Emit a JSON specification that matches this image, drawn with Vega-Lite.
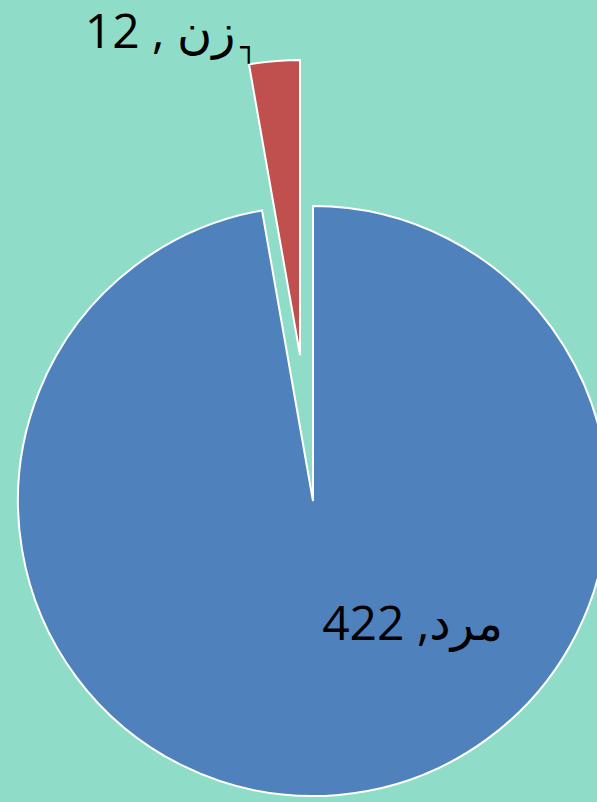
{
  "$schema": "https://vega.github.io/schema/vega-lite/v6.json",
  "width": 568,
  "height": 590,
  "autosize": {"type": "none"},
  "padding": {"left": 29, "top": 206, "right": 0, "bottom": 6},
  "background": "#8FDDC8",
  "config": {"view": {"stroke": null}},
  "data": {
    "values": [
      {"gender": "مرد", "count": 422, "label": "مرد, 422"},
      {"gender": "زن", "count": 12, "label": "زن , 12"}
    ]
  },
  "encoding": {
    "theta": {"field": "count", "type": "quantitative", "stack": true},
    "order": {"field": "count", "type": "quantitative", "sort": "descending"}
  },
  "layer": [
    {
      "mark": {"type": "arc", "radius": 295, "stroke": "white", "strokeWidth": 2},
      "encoding": {
        "color": {"field": "gender", "type": "nominal", "scale": {"domain": ["مرد", "زن"], "range": ["#4F81BD", "#C0504D"]}, "legend": null},
        "opacity": {"condition": {"test": "datum.gender === 'مرد'", "value": 1}, "value": 0}
      }
    },
    {
      "mark": {"type": "arc", "radius": 295, "stroke": "white", "strokeWidth": 2, "xOffset": -13, "yOffset": -146},
      "encoding": {
        "color": {"field": "gender", "type": "nominal", "scale": {"domain": ["مرد", "زن"], "range": ["#4F81BD", "#C0504D"]}, "legend": null},
        "opacity": {"condition": {"test": "datum.gender === 'زن'", "value": 1}, "value": 0}
      }
    },
    {
      "mark": {"type": "text", "radius": 171, "thetaOffset": -0.5344, "align": "center", "baseline": "alphabetic", "dir": "rtl", "font": "Open Sans, DejaVu Sans", "fontSize": 48, "color": "black"},
      "encoding": {
        "text": {"condition": {"test": "datum.gender === 'مرد'", "field": "label"}, "value": ""}
      }
    },
    {
      "mark": {"type": "text", "radius": 478, "thetaOffset": -0.2388, "align": "center", "baseline": "alphabetic", "dir": "rtl", "font": "Open Sans, DejaVu Sans", "fontSize": 48, "color": "black"},
      "encoding": {
        "text": {"condition": {"test": "datum.gender === 'زن'", "field": "label"}, "value": ""}
      }
    },
    {
      "mark": {"type": "text", "radius": 448.6, "thetaOffset": -0.0562, "align": "center", "baseline": "alphabetic", "font": "DejaVu Sans", "fontSize": 28, "color": "black"},
      "encoding": {
        "text": {"condition": {"test": "datum.gender === 'زن'", "value": "┐"}, "value": ""}
      }
    }
  ]
}
